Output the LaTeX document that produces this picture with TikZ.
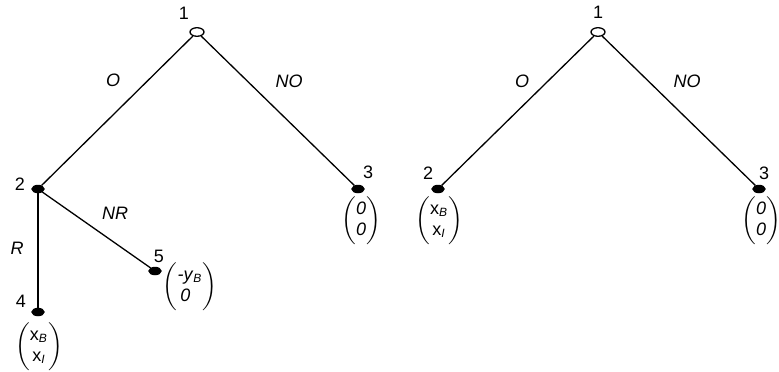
\documentclass[tikz,border=0pt]{standalone}
\usepackage{fontspec}
\setmainfont{Liberation Sans}
\usetikzlibrary{shapes.geometric}

\newcommand{\payoff}[2]{$\left(\begin{tabular}{@{}c@{}}#1\\#2\end{tabular}\right)$}

\begin{document}
\begin{tikzpicture}[x=0.5pt, y=-0.5pt, line width=0.65pt,
                    every node/.style = {font=\fontsize{9}{10.5}\selectfont},
                    decision/.style = {shape=ellipse, draw, fill=black,
                      minimum width=6pt, minimum height=3.6pt, inner sep=0pt},
                    root/.style = {decision, fill=white,
                      minimum width=7pt, minimum height=4.3pt},
                    nlbl/.style = {inner sep=0.5pt},
                    elbl/.style = {font=\fontsize{9}{10.5}\selectfont\itshape}]
  \useasboundingbox (0,0) rectangle (779,371);
  % left tree
  \node[root] (a1) at (197,32) {};
  \node[decision] (a2) at (38,189) {};
  \node[decision] (a3) at (358,189) {};
  \node[decision] (a4) at (38,312) {};
  \node[decision] (a5) at (155,271) {};
  \node[nlbl] (n1) at (184,13) {1};
  \node[nlbl] (n2) at (20,184) {2};
  \node[nlbl] (n3) at (368,172) {3};
  \node[nlbl] (n4) at (21,301) {4};
  \node[nlbl] (n5) at (159,256) {5};
  \draw (a1) -- (a2);
  \draw (a1) -- (a3);
  \draw (a2) -- (a4);
  \draw (a2) -- (a5);
  \node[elbl] (aO) at (113,80) {O};
  \node[elbl] (aNO) at (289,81) {NO};
  \node[elbl] (aR) at (17,248) {R};
  \node[elbl] (aNR) at (115,213) {NR};
  \node (p3) at (361,221) {\payoff{\textit{0}}{\textit{0}}};
  \node (p5) at (190,287) {\payoff{\textit{-y}\textsubscript{\textit{B}}}{\textit{0}\phantom{\textsubscript{B}}}};
  \node (p4) at (39,347) {\payoff{x\textsubscript{\textit{B}}}{x\textsubscript{\textit{I}}}};
  % right tree
  \node[root] (b1) at (598,32) {};
  \node[decision] (b2) at (438,189) {};
  \node[decision] (b3) at (759,189) {};
  \node[nlbl] (m1) at (598,12) {1};
  \node[nlbl] (m2) at (428,173) {2};
  \node[nlbl] (m3) at (764,173) {3};
  \draw (b1) -- (b2);
  \draw (b1) -- (b3);
  \node[elbl] (bO) at (522,81) {O};
  \node[elbl] (bNO) at (687,81) {NO};
  \node (q2) at (439,221) {\payoff{x\textsubscript{\textit{B}}}{x\textsubscript{\textit{I}}}};
  \node (q3) at (761,221) {\payoff{\textit{0}}{\textit{0}}};
\end{tikzpicture}
\end{document}
